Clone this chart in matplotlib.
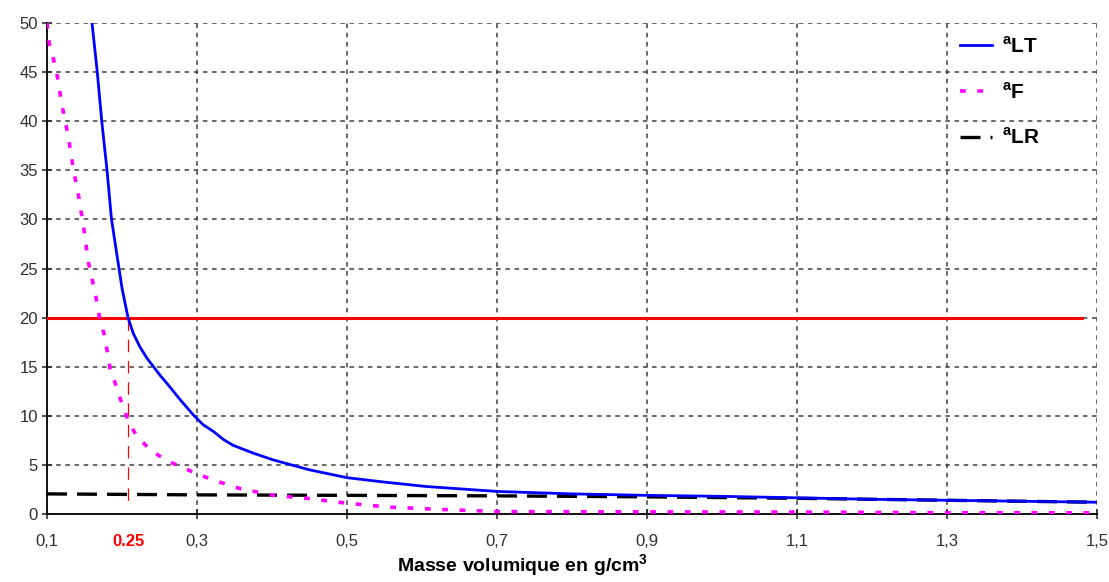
import matplotlib
matplotlib.use("Agg")
import matplotlib.pyplot as plt
from matplotlib.ticker import FixedLocator

plt.rcParams["font.family"] = ["Liberation Sans", "DejaVu Sans"]
plt.rcParams["mathtext.fontset"] = "custom"
plt.rcParams["mathtext.rm"] = "Liberation Sans"
plt.rcParams["mathtext.bf"] = "Liberation Sans:bold"

# a_LT (blue solid)
lt_x = [0.160, 0.167, 0.173, 0.180, 0.186, 0.194, 0.200, 0.208, 0.215, 0.224,
        0.233, 0.242, 0.251, 0.260, 0.278, 0.295, 0.308, 0.322, 0.335, 0.348,
        0.375, 0.402, 0.450, 0.500, 0.550, 0.606, 0.700, 0.800, 0.900, 1.000,
        1.100, 1.200, 1.300, 1.400, 1.500]
lt_y = [50.0, 45.0, 40.0, 35.0, 30.0, 26.0, 23.0, 20.0, 18.4, 17.0,
        15.9, 15.0, 14.1, 13.3, 11.6, 10.1, 9.1, 8.4, 7.6, 7.0,
        6.2, 5.5, 4.5, 3.7, 3.25, 2.8, 2.3, 2.05, 1.9, 1.8,
        1.65, 1.5, 1.4, 1.3, 1.2]

# a_F (magenta dotted)
f_x = [0.100, 0.103, 0.108, 0.113, 0.120, 0.128, 0.135, 0.143, 0.150, 0.155,
       0.164, 0.171, 0.177, 0.184, 0.191, 0.197, 0.202, 0.210, 0.220, 0.233,
       0.248, 0.264, 0.282, 0.300, 0.320, 0.357, 0.402, 0.446, 0.500, 0.557,
       0.615, 0.700, 0.900, 1.100, 1.300, 1.500]
f_y = [50.0, 47.9, 46.5, 44.9, 41.6, 38.6, 35.2, 32.0, 28.6, 25.7,
       22.6, 19.6, 18.1, 14.8, 13.3, 11.9, 10.8, 9.2, 7.9, 6.9,
       6.0, 5.3, 4.7, 4.1, 3.5, 2.6, 1.9, 1.6, 1.1, 0.7,
       0.5, 0.25, 0.22, 0.2, 0.13, 0.12]

# a_LR (black dashed)
lr_x = [0.1, 0.3, 0.5, 0.7, 0.9, 1.1, 1.3, 1.5]
lr_y = [2.05, 1.95, 1.9, 1.85, 1.75, 1.6, 1.4, 1.2]

# limit line and crossing
limit_value = 20
limit_x = [0.1, 1.48]
cross_x = 0.208
cross_label = "0.25"

x_ticks = [0.1, 0.3, 0.5, 0.7, 0.9, 1.1, 1.3, 1.5]
x_tick_labels = ["0,1", "0,3", "0,5", "0,7", "0,9", "1,1", "1,3", "1,5"]
y_ticks = list(range(0, 55, 5))

fig = plt.figure(figsize=(11.09, 5.82), dpi=100)
ax = fig.add_axes([0.0424, 0.1168, 0.9467, 0.8437])

grid_color = "#404040"
for xv in x_ticks[1:]:
	ax.axvline(xv, color=grid_color, linestyle=(0, (3, 3)), linewidth=1.1, zorder=1)
for yv in y_ticks[1:]:
	ax.axhline(yv, color=grid_color, linestyle=(0, (3, 3)), linewidth=1.1, zorder=1)

ax.plot(limit_x, [limit_value, limit_value], color="#FF0000", linewidth=2.2, zorder=3)
ax.plot([cross_x, cross_x], [limit_value, 0.7], color="#FF0000",
	linestyle=(0, (10, 7)), linewidth=0.9, zorder=3)

ax.plot(lr_x, lr_y, color="black", linestyle=(0, (6, 3)), linewidth=2.4,
	label=r"$^{\mathbf{a}}\mathbf{LR}$", zorder=4)
ax.plot(f_x, f_y, color="#FF00FF", linestyle=(0, (1.6, 3.2)), linewidth=2.6,
	label=r"$^{\mathbf{a}}\mathbf{F}$", zorder=5)
ax.plot(lt_x, lt_y, color="#0000FF", linewidth=2.0,
	label=r"$^{\mathbf{a}}\mathbf{LT}$", zorder=6)

ax.set_xlim(0.1, 1.5)
ax.set_ylim(0, 50)
ax.xaxis.set_major_locator(FixedLocator(x_ticks))
ax.set_xticklabels(x_tick_labels)
ax.set_yticks(y_ticks)
ax.tick_params(axis="both", direction="inout", length=7, width=1.1,
	color="#202020", labelsize=12, labelcolor="#303030")
ax.tick_params(axis="x", pad=11)
ax.tick_params(axis="y", pad=3)

for side in ["top", "right"]:
	ax.spines[side].set_visible(False)
for side in ["left", "bottom"]:
	ax.spines[side].set_color("#101010")
	ax.spines[side].set_linewidth(1.4)

handles, labels = ax.get_legend_handles_labels()
ax.legend(handles[::-1], labels[::-1], loc="upper left",
	bbox_to_anchor=(0.852, 1.012), frameon=False, fontsize=15,
	handlelength=1.5, labelspacing=1.2, handletextpad=0.5)

ax.text(cross_x, -0.04, cross_label, transform=ax.get_xaxis_transform(),
	color="#FF0000", fontsize=12, fontweight="bold", ha="center", va="top")

fig.text(0.471, 0.006, r"Masse volumique en g/cm$^{\mathbf{3}}$",
	fontsize=14, fontweight="bold", ha="center", va="bottom")

fig.savefig("out.png", dpi=100)
